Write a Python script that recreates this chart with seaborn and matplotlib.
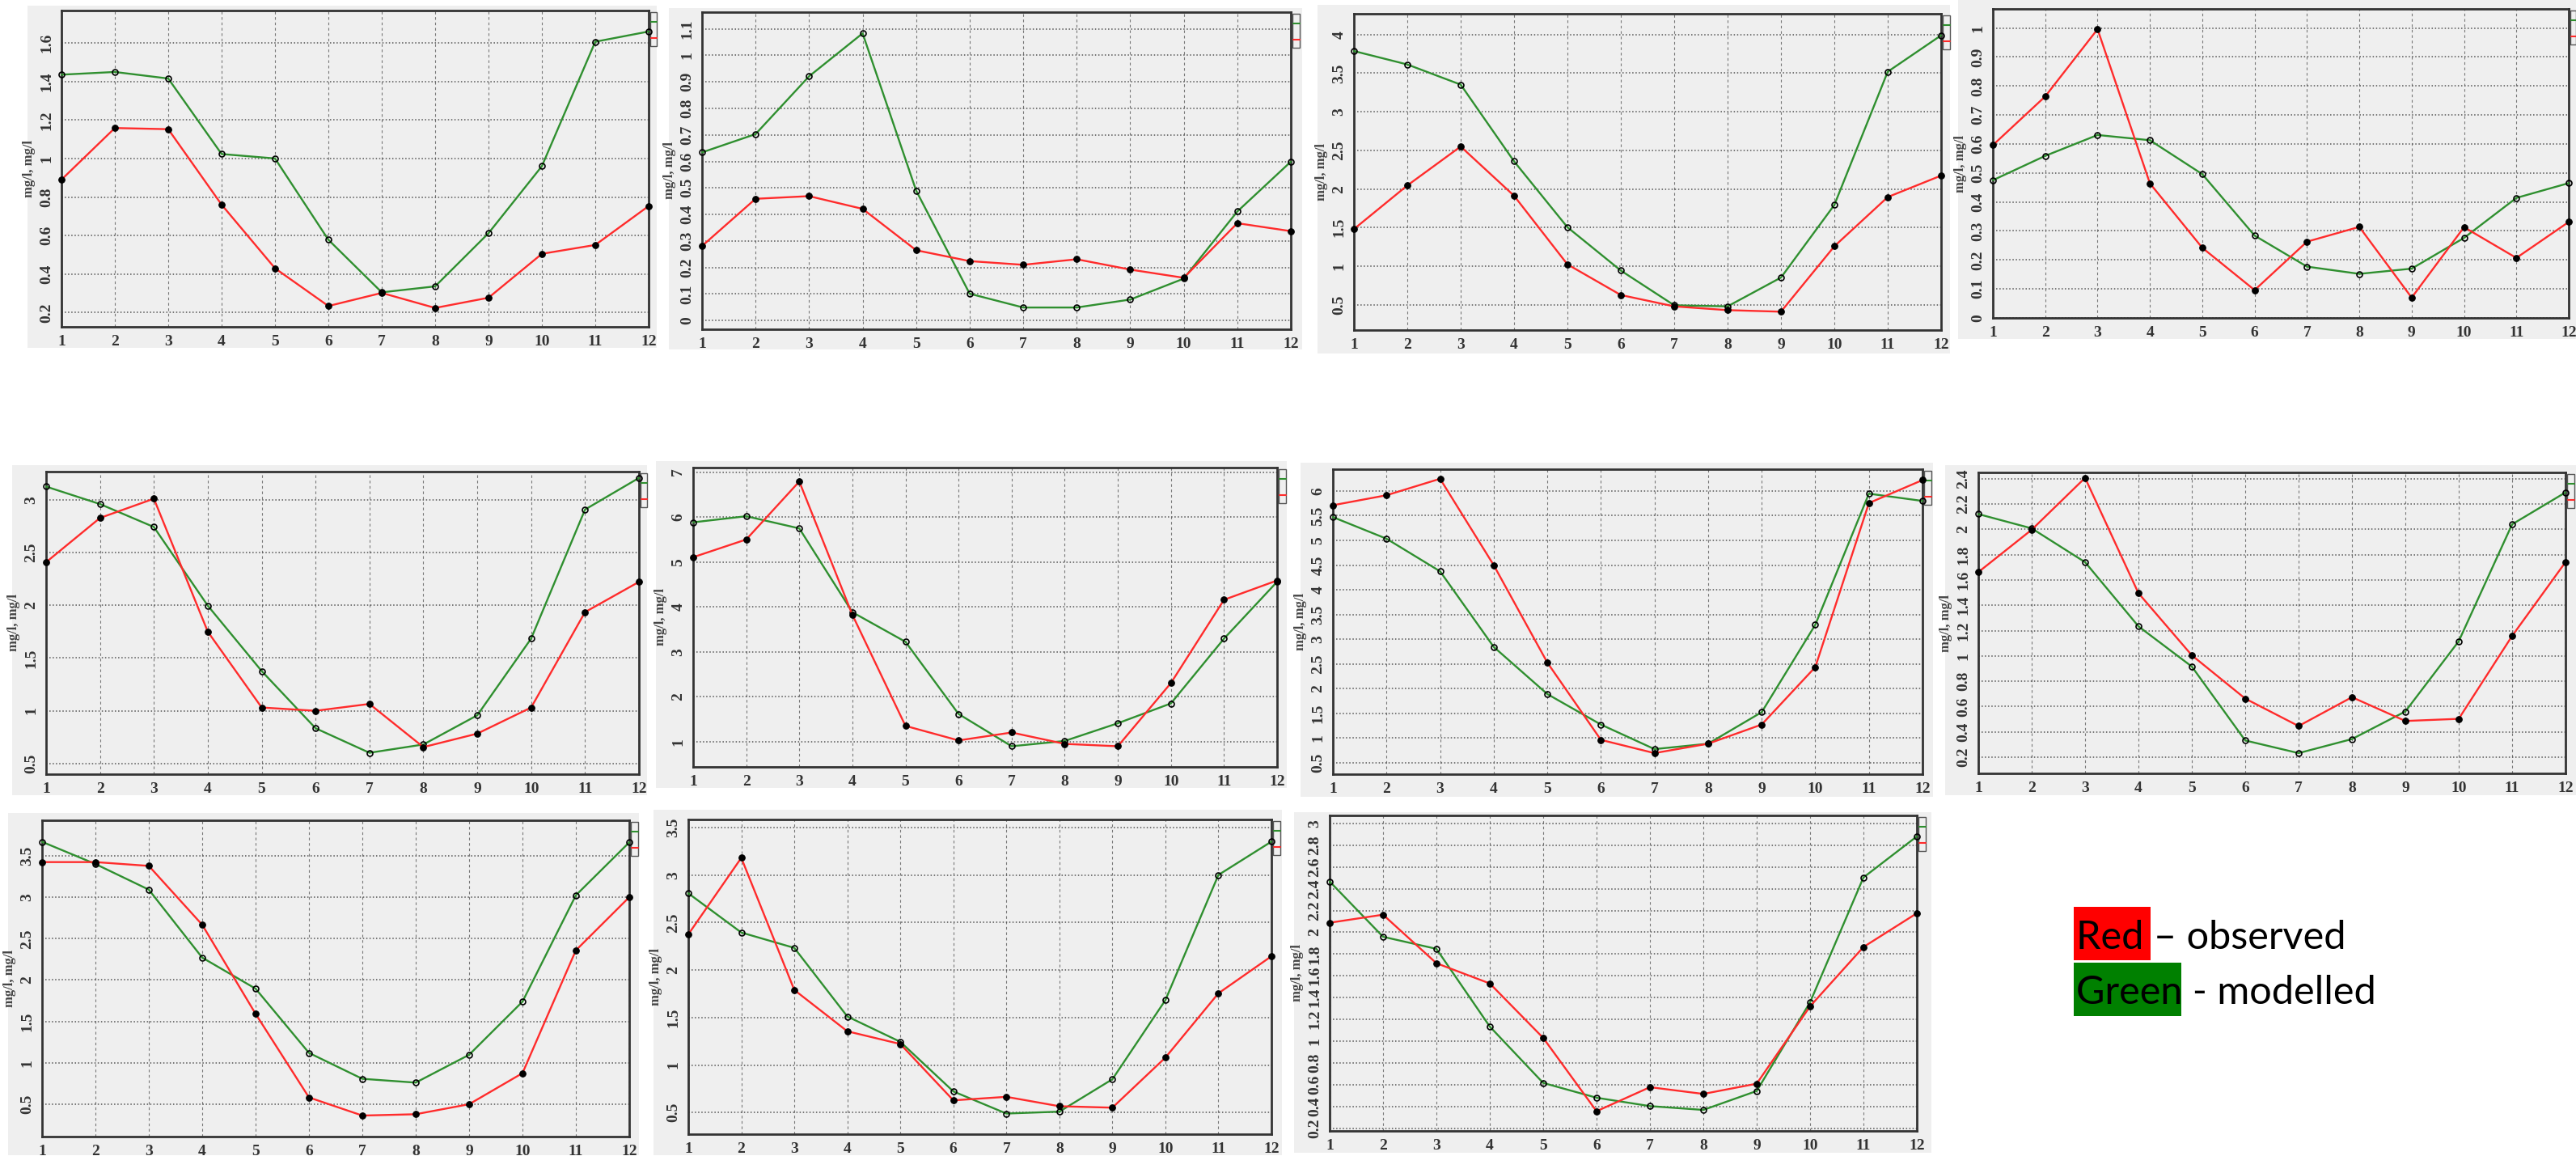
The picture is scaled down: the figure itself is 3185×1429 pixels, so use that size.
import matplotlib
matplotlib.use("Agg")
import matplotlib.pyplot as plt
import matplotlib.ticker as mticker
from matplotlib.patches import Rectangle
from matplotlib.lines import Line2D
import numpy as np
import pandas as pd
import seaborn as sns

# --- 画像サイズ（px） ---
W, H = 3185, 1429

months = list(range(1, 13))

# --- 観測値（赤）とモデル値（緑） mg/l ---
obs_1 = [0.89, 1.158, 1.152, 0.76, 0.43, 0.234, 0.302, 0.224, 0.277, 0.505, 0.551, 0.753]
mod_1 = [1.435, 1.449, 1.415, 1.023, 1.0, 0.578, 0.305, 0.336, 0.612, 0.96, 1.606, 1.659]

obs_2 = [0.281, 0.459, 0.469, 0.421, 0.265, 0.224, 0.21, 0.231, 0.192, 0.161, 0.367, 0.337]
mod_2 = [0.634, 0.703, 0.921, 1.083, 0.49, 0.101, 0.049, 0.049, 0.079, 0.158, 0.411, 0.599]

obs_3 = [1.48, 2.045, 2.55, 1.912, 1.023, 0.626, 0.479, 0.43, 0.41, 1.257, 1.895, 2.173]
mod_3 = [3.787, 3.613, 3.352, 2.358, 1.504, 0.943, 0.493, 0.479, 0.852, 1.793, 3.519, 3.99]

obs_4 = [0.596, 0.764, 0.996, 0.464, 0.242, 0.096, 0.263, 0.314, 0.07, 0.313, 0.207, 0.331]
mod_4 = [0.475, 0.559, 0.631, 0.613, 0.496, 0.284, 0.177, 0.152, 0.17, 0.276, 0.414, 0.465]

obs_5 = [2.41, 2.83, 3.013, 1.75, 1.03, 0.999, 1.064, 0.654, 0.782, 1.03, 1.936, 2.223]
mod_5 = [3.128, 2.962, 2.744, 1.997, 1.376, 0.833, 0.6, 0.679, 0.956, 1.685, 2.91, 3.21]

obs_6 = [5.106, 5.5, 6.79, 3.824, 1.353, 1.03, 1.206, 0.953, 0.9, 2.306, 4.159, 4.588]
mod_6 = [5.882, 6.018, 5.747, 3.882, 3.224, 1.618, 0.9, 1.018, 1.412, 1.853, 3.294, 4.559]

obs_7 = [5.711, 5.913, 6.246, 4.5, 2.53, 0.965, 0.697, 0.887, 1.275, 2.437, 5.755, 6.22]
mod_7 = [5.471, 5.034, 4.374, 2.846, 1.892, 1.275, 0.778, 0.887, 1.525, 3.293, 5.945, 5.798]

obs_8 = [1.662, 1.997, 2.407, 1.496, 1.005, 0.663, 0.446, 0.674, 0.486, 0.503, 1.158, 1.741]
mod_8 = [2.121, 2.008, 1.741, 1.234, 0.916, 0.332, 0.232, 0.343, 0.561, 1.116, 2.04, 2.292]

obs_9 = [3.425, 3.425, 3.379, 2.668, 1.592, 0.582, 0.363, 0.379, 0.5, 0.875, 2.359, 3.001]
mod_9 = [3.67, 3.402, 3.092, 2.271, 1.896, 1.12, 0.807, 0.761, 1.097, 1.739, 3.024, 3.663]

obs_10 = [2.375, 3.181, 1.79, 1.355, 1.221, 0.628, 0.665, 0.566, 0.551, 1.078, 1.755, 2.145]
mod_10 = [2.808, 2.395, 2.233, 1.511, 1.244, 0.722, 0.489, 0.509, 0.85, 1.683, 3.001, 3.352]

obs_11 = [2.088, 2.162, 1.716, 1.53, 1.03, 0.356, 0.577, 0.515, 0.609, 1.32, 1.865, 2.175]
mod_11 = [2.467, 1.959, 1.848, 1.134, 0.616, 0.48, 0.403, 0.368, 0.542, 1.357, 2.504, 2.881]

# y 軸の範囲と目盛り
ylims = [(0.126, 1.768), (-0.033, 1.163), (0.172, 4.27), (0.0, 1.066),
         (0.397, 3.27), (0.441, 7.1), (0.271, 6.44), (0.072, 2.45),
         (0.109, 3.93), (0.272, 3.585), (0.175, 3.074)]
yticks = [np.arange(0.2, 1.61, 0.2), np.arange(0, 1.11, 0.1), np.arange(0.5, 4.01, 0.5),
          np.arange(0, 1.01, 0.1), np.arange(0.5, 3.01, 0.5), np.arange(1, 7.01, 1),
          np.arange(0.5, 6.01, 0.5), np.arange(0.2, 2.41, 0.2), np.arange(0.5, 3.51, 0.5),
          np.arange(0.5, 3.51, 0.5), np.arange(0.2, 3.01, 0.2)]

# --- レイアウト（px: left, top, right, bottom） ---
axes_px = [(76, 13, 802, 404), (868, 15, 1596, 407), (1674, 17, 2400, 408), (2464, 11, 3176, 393),
           (57, 583, 790, 957), (857, 578, 1579, 948), (1648, 580, 2377, 957), (2446, 584, 3172, 956),
           (52, 1014, 778, 1405), (851, 1013, 1572, 1402), (1644, 1008, 2370, 1398)]
bg_px = [(34, 7, 812, 430), (827, 10, 1610, 432), (1629, 6, 2411, 437), (2421, 0, 3185, 419),
         (15, 575, 800, 983), (811, 570, 1591, 974), (1608, 572, 2390, 985), (2405, 575, 3185, 983),
         (10, 1005, 790, 1428), (808, 1001, 1585, 1428), (1600, 1004, 2388, 1425)]

RED = "#ff2b2b"
GREEN = "#2f8f2f"
BG = "#efefef"
INK = "#333333"

sns.set_theme(style="white")
plt.rcParams["font.family"] = ["Liberation Serif", "DejaVu Serif"]


def frac(box):
    l, t, r, b = box
    return [l / W, 1 - b / H, (r - l) / W, (b - t) / H]


def draw_panel(fig, obs, mod, ylim, ticks, box, bg):
    back = fig.add_axes(frac(bg))
    back.set_facecolor(BG)
    back.set_xticks([])
    back.set_yticks([])
    for s in back.spines.values():
        s.set_visible(False)

    ax = fig.add_axes(frac(box))
    ax.set_facecolor(BG)
    df = pd.DataFrame({"month": months, "obs": obs, "mod": mod})
    sns.lineplot(data=df, x="month", y="mod", ax=ax, color=GREEN, lw=1.7, marker="o",
                 markersize=5, markerfacecolor="none", markeredgecolor="black",
                 markeredgewidth=1.2, clip_on=False, zorder=3)
    sns.lineplot(data=df, x="month", y="obs", ax=ax, color=RED, lw=1.7, marker="o",
                 markersize=5.5, markerfacecolor="black", markeredgecolor="black",
                 clip_on=False, zorder=4)
    ax.set_xlim(1, 12)
    ax.set_ylim(*ylim)
    ax.set_xticks(months)
    ax.set_yticks(ticks)
    ax.yaxis.set_major_formatter(mticker.FuncFormatter(lambda v, p: f"{v:g}" if abs(v) > 1e-9 else "0"))
    ax.grid(axis="y", ls=":", color="#555555", lw=1.1)
    ax.grid(axis="x", ls=(0, (3, 3)), color="#777777", lw=0.8)
    ax.set_axisbelow(True)
    for s in ax.spines.values():
        s.set_color(INK)
        s.set_linewidth(2.0)
    ax.tick_params(axis="both", direction="out", length=4, width=1, color=INK,
                   labelsize=14, labelcolor=INK, pad=3)
    ax.tick_params(axis="y", labelrotation=90)
    for lab in ax.get_yticklabels():
        lab.set_va("center")
        lab.set_fontweight("bold")
    for lab in ax.get_xticklabels():
        lab.set_fontweight("bold")
    ax.set_xlabel("")
    ax.set_ylabel("mg/l, mg/l", fontsize=12, fontweight="bold", color="#444444", labelpad=4)

    # 右端で切れている凡例の名残
    l, t, r, b = box
    x0 = (r + 2 - l) / (r - l)
    wpx = min(9, bg[2] - r - 2)
    if wpx > 2:
        ww = wpx / (r - l)
        yt = 1 - 2 / (b - t)
        hh = 42 / (b - t)
        ax.add_patch(Rectangle((x0, yt - hh), ww, hh, transform=ax.transAxes, fill=False,
                               ec="#555555", lw=1, clip_on=False))
        for yy, cc in [(yt - 12 / (b - t), GREEN), (yt - 32 / (b - t), RED)]:
            ax.add_line(Line2D([x0 + 1 / (r - l), x0 + ww], [yy, yy], transform=ax.transAxes,
                               color=cc, lw=1.5, clip_on=False))
    return ax


fig = plt.figure(figsize=(W / 100, H / 100), dpi=100)
fig.patch.set_facecolor("white")

series = [(obs_1, mod_1), (obs_2, mod_2), (obs_3, mod_3), (obs_4, mod_4),
          (obs_5, mod_5), (obs_6, mod_6), (obs_7, mod_7), (obs_8, mod_8),
          (obs_9, mod_9), (obs_10, mod_10), (obs_11, mod_11)]
for i, (o, m) in enumerate(series):
    draw_panel(fig, o, m, ylims[i], yticks[i], axes_px[i], bg_px[i])

# --- 凡例（赤＝観測、緑＝モデル） ---
fig.patches.append(Rectangle((2564 / W, 1 - 1187 / H), 95 / W, 66 / H, transform=fig.transFigure,
                             fc="#ff0000", ec="none"))
fig.patches.append(Rectangle((2564 / W, 1 - 1256 / H), 133 / W, 66 / H, transform=fig.transFigure,
                             fc="#008000", ec="none"))
fig.text(2567 / W, 1 - 1173 / H, "Red \u2013 observed", fontsize=35, family=["Lato", "DejaVu Sans"],
         color="black", va="baseline", ha="left")
fig.text(2567 / W, 1 - 1241 / H, "Green - modelled", fontsize=35, family=["Lato", "DejaVu Sans"],
         color="black", va="baseline", ha="left")

fig.savefig("out.png", dpi=100, facecolor="white")
